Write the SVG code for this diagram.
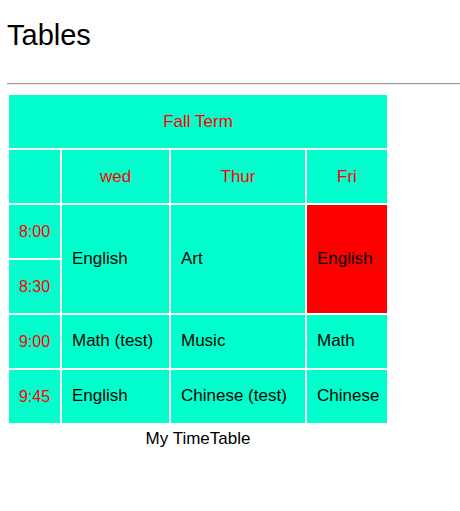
<svg xmlns="http://www.w3.org/2000/svg" width="460" height="511" viewBox="0 0 460 511">
<style>
.cell{fill:#00ffcc}
.hot{fill:#ff0000}
.t{font-family:"Liberation Sans",Arial,sans-serif;font-size:17px}
.h{fill:#ff0000;text-anchor:middle}
.tm{font-size:16px}
.b{fill:#000000}
.title{font-family:"Liberation Sans",Arial,sans-serif;font-size:29px;fill:#000}
.cap{font-family:"Liberation Sans",Arial,sans-serif;font-size:17px;fill:#000;text-anchor:middle}
</style>
<rect width="460" height="511" fill="#ffffff"/>
<text class="title" x="7" y="45">Tables</text>
<g id="rule">
<line x1="7" y1="83.5" x2="460" y2="83.5" stroke="#999999" stroke-width="1"/>
<line x1="7" y1="84.5" x2="460" y2="84.5" stroke="#eeeeee" stroke-width="1"/>
</g>
<g id="connectors"></g>
<g id="fall-term"><rect class="cell" x="9" y="95" width="378" height="53"/><text class="t h" x="198" y="127">Fall Term</text></g>
<g id="corner"><rect class="cell" x="9" y="150" width="51" height="53"/></g>
<g id="wed"><rect class="cell" x="62" y="150" width="107" height="53"/><text class="t h" x="115.5" y="182">wed</text></g>
<g id="thur"><rect class="cell" x="171" y="150" width="134" height="53"/><text class="t h" x="238" y="182">Thur</text></g>
<g id="fri"><rect class="cell" x="307" y="150" width="80" height="53"/><text class="t h" x="347" y="182">Fri</text></g>
<g id="t800"><rect class="cell" x="9" y="205" width="51" height="53"/><text class="t h tm" x="34.5" y="237">8:00</text></g>
<g id="t830"><rect class="cell" x="9" y="260" width="51" height="53"/><text class="t h tm" x="34.5" y="292">8:30</text></g>
<g id="wed-1"><rect class="cell" x="62" y="205" width="107" height="108"/><text class="t b" x="72" y="264">English</text></g>
<g id="thur-1"><rect class="cell" x="171" y="205" width="134" height="108"/><text class="t b" x="181" y="264">Art</text></g>
<g id="fri-1"><rect class="hot" x="307" y="205" width="80" height="108"/><text class="t b" x="317" y="264">English</text></g>
<g id="t900"><rect class="cell" x="9" y="315" width="51" height="53"/><text class="t h tm" x="34.5" y="347">9:00</text></g>
<g id="wed-2"><rect class="cell" x="62" y="315" width="107" height="53"/><text class="t b" x="72" y="346">Math (test)</text></g>
<g id="thur-2"><rect class="cell" x="171" y="315" width="134" height="53"/><text class="t b" x="181" y="346">Music</text></g>
<g id="fri-2"><rect class="cell" x="307" y="315" width="80" height="53"/><text class="t b" x="317" y="346">Math</text></g>
<g id="t945"><rect class="cell" x="9" y="370" width="51" height="53"/><text class="t h tm" x="34.5" y="402">9:45</text></g>
<g id="wed-3"><rect class="cell" x="62" y="370" width="107" height="53"/><text class="t b" x="72" y="401">English</text></g>
<g id="thur-3"><rect class="cell" x="171" y="370" width="134" height="53"/><text class="t b" x="181" y="401">Chinese (test)</text></g>
<g id="fri-3"><rect class="cell" x="307" y="370" width="80" height="53"/><text class="t b" x="317" y="401">Chinese</text></g>
<text class="cap" x="198" y="444">My TimeTable</text>
</svg>
